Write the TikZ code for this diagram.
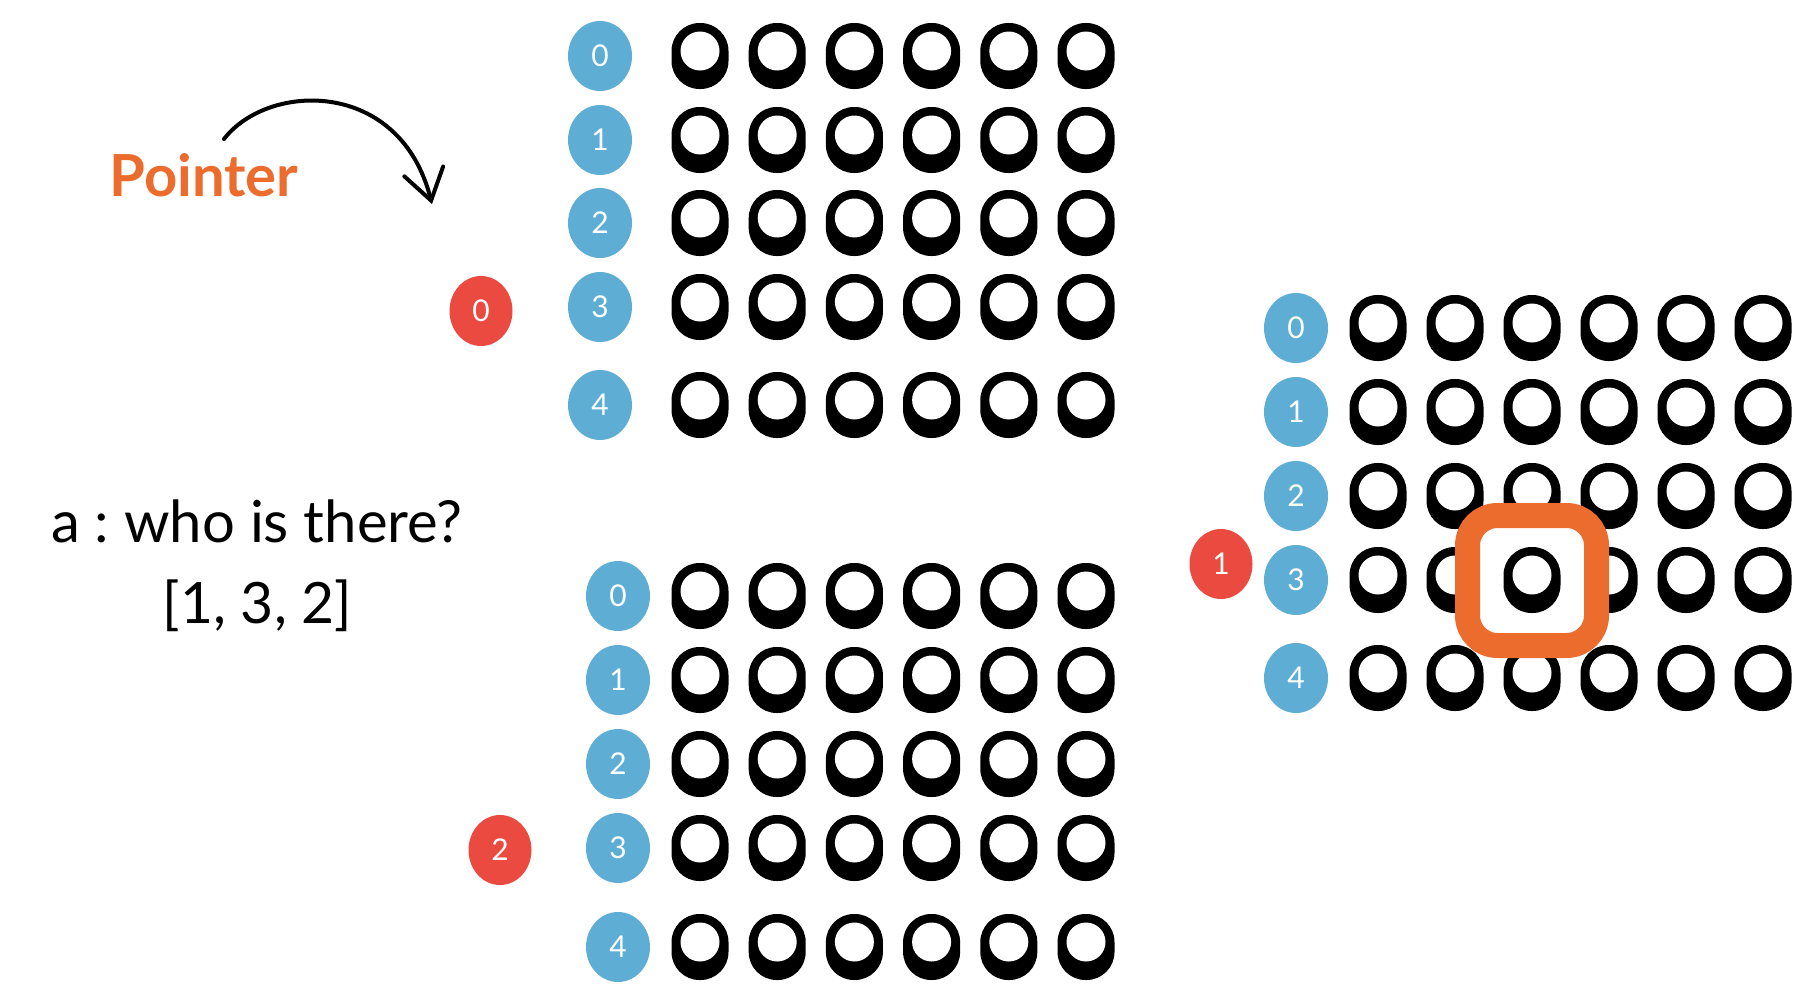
\documentclass[tikz,border=0pt]{standalone}
\usepackage{fontspec}
\setmainfont{Lato}
\frenchspacing
\usetikzlibrary{arrows.meta,shapes.geometric}
\definecolor{idxblue}{HTML}{5EADD5}
\definecolor{ptrred}{HTML}{EA4A3F}
\definecolor{hiorange}{HTML}{EC6C2D}
\tikzset{
  idx/.style={ellipse, fill=idxblue, text=white, minimum width=64pt, minimum height=70pt, inner sep=0pt, font=\fontsize{30}{30}\selectfont},
  ptrnode/.style={ellipse, fill=ptrred, text=white, minimum width=63pt, minimum height=70pt, inner sep=0pt, font=\fontsize{30}{30}\selectfont},
  seat/.style={rectangle, rounded corners=28pt, fill=black, minimum width=57pt, minimum height=66pt, inner sep=0pt},
  hole/.style={circle, fill=white, minimum size=39pt, inner sep=0pt, yshift=5pt},
  focus/.style={rectangle, draw=hiorange, line width=25pt, fill=white, rounded corners=30pt, minimum width=129pt, minimum height=130pt, inner sep=0pt},
  ptrarrow/.style={line width=4pt, line cap=round, -{Straight Barb[length=30pt,width=40pt,line cap=round]}},
  labeltext/.style={inner sep=0pt, anchor=base}
}
\begin{document}
\begin{tikzpicture}[x=1pt, y=-1pt]
\path[use as bounding box] (0,0) rectangle (1802,1004);

% top grid
\foreach \r/\y in {0/56,1/140,2/223,3/307,4/405} {
  \node[idx] (TI\r) at (600,\y) {\r};
  \foreach \c in {0,...,5} {
    \node[seat] (TS\r\c) at ({700+77.2*\c},\y) {};
    \node[hole] (TH\r\c) at (TS\r\c) {};
  }
}
\node[ptrnode] (TP) at (481,311) {0};

% bottom grid
\foreach \r/\y in {0/596,1/680,2/764,3/848,4/947} {
  \node[idx] (BI\r) at (618,\y) {\r};
  \foreach \c in {0,...,5} {
    \node[seat] (BS\r\c) at ({700+77.2*\c},\y) {};
    \node[hole] (BH\r\c) at (BS\r\c) {};
  }
}
\node[ptrnode] (BP) at (500,850) {2};

% right grid
\foreach \r/\y in {0/328,1/412,2/496,3/580,4/678} {
  \node[idx] (RI\r) at (1296,\y) {\r};
  \foreach \c in {0,...,5} {
    \node[seat] (RS\r\c) at ({1378+77*\c},\y) {};
    \node[hole] (RH\r\c) at (RS\r\c) {};
  }
}
\node[ptrnode] (RP) at (1221,564) {1};

% highlight
\node[focus] (F) at (1532,580.5) {};
\node[seat] (FS) at (RS32) {};
\node[hole] (FH) at (FS) {};

% pointer label and arrow
\node[labeltext, text=hiorange, font=\fontsize{58}{60}\selectfont\bfseries] (PL) at (204,196) {Pointer};
\coordinate (ptrS) at (224,139);
\coordinate (ptrE) at (432,204);
\draw[ptrarrow] (ptrS) .. controls (268,82) and (400,78) .. (ptrE);

% question text
\node[labeltext, font=\fontsize{58}{60}\selectfont] (Q1) at (257,542) {a : who is there?};
\node[labeltext, font=\fontsize{57}{60}\selectfont] (Q2) at (257.5,623) {[1, 3, 2]};
\end{tikzpicture}
\end{document}
